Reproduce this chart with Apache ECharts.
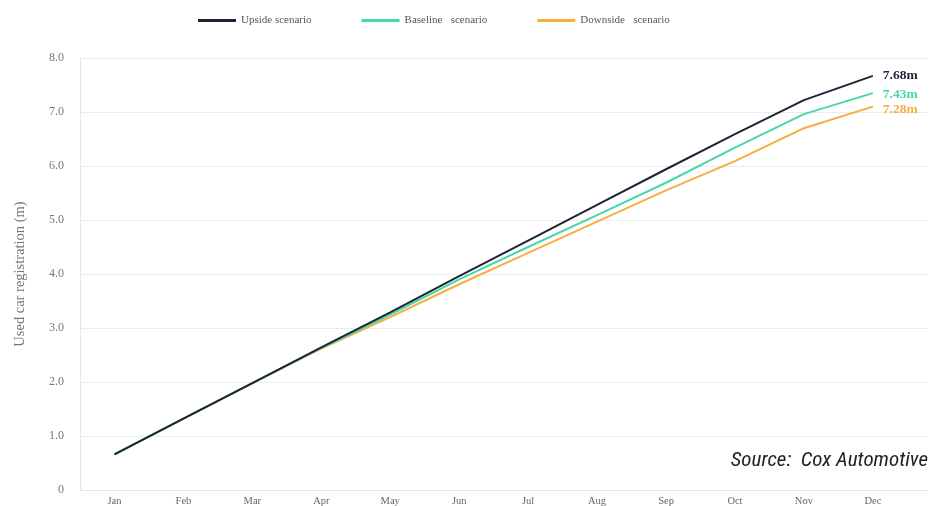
<!DOCTYPE html>
<html>
<head>
<meta charset="utf-8">
<script src="https://cdn.jsdelivr.net/npm/echarts@6/dist/echarts.min.js"></script>
<style>
html,body{margin:0;padding:0;background:#fff;}
#chart{width:940px;height:506px;}
</style>
</head>
<body>
<div id="chart"></div>
<script>
const months = ['Jan','Feb','Mar','Apr','May','Jun','Jul','Aug','Sep','Oct','Nov','Dec'];
const upside   = [0.66,1.32,1.98,2.64,3.29,3.96,4.62,5.28,5.94,6.59,7.22,7.67];
const baseline = [0.66,1.32,1.98,2.63,3.25,3.90,4.50,5.09,5.69,6.34,6.96,7.35];
const downside = [0.66,1.32,1.98,2.62,3.20,3.81,4.39,4.97,5.55,6.09,6.70,7.10];
const seriesNames = ['Upside scenario','Baseline   scenario','Downside   scenario'];
const endLabels = ['7.68m','7.43m','7.28m'];
const sourceText = 'Source:  Cox Automotive';

const colors = ['#1d2437','#48d6ab','#f7ae3e'];
const serif = '"Liberation Serif","DejaVu Serif",serif';

const chart = echarts.init(document.getElementById('chart'));

function toPairs(arr){ return arr.map((v,i)=>[i,v]); }

function makeSeries(name, data, color, idx){
  return {
    name: name,
    type: 'line',
    data: toPairs(data),
    symbol: 'none',
    smooth: false,
    lineStyle: {color: color, width: 2},
    itemStyle: {color: color},
    z: 10 - idx,
    endLabel: {
      show: true,
      formatter: () => endLabels[idx],
      color: color,
      fontFamily: serif,
      fontWeight: 'bold',
      fontSize: 13.5,
      distance: 10,
      offset: [0, idx === 2 ? 3 : (idx === 1 ? 1 : 0)]
    }
  };
}

chart.setOption({
  animation: false,
  backgroundColor: '#fff',
  color: colors,
  legend: {
    top: 10,
    left: 193,
    itemWidth: 38,
    itemHeight: 3,
    itemGap: 50,
    icon: 'rect',
    textStyle: {fontFamily: serif, fontSize: 11, color: '#555'},
    data: seriesNames
  },
  grid: {left: 80, right: 12, top: 58, bottom: 16, containLabel: false, outerBoundsMode: 'none'},
  xAxis: {
    type: 'value',
    min: -0.5,
    max: 11.8,
    axisLine: {show: true, onZero: false, lineStyle: {color: '#e6e6e6', width: 1}},
    axisTick: {show: false},
    splitLine: {show: false},
    axisLabel: {
      customValues: months.map((m,i)=>i),
      formatter: v => months[Math.round(v)] || '',
      fontFamily: serif,
      fontSize: 10.5,
      color: '#666',
      margin: 6
    }
  },
  yAxis: {
    type: 'value',
    min: 0,
    max: 8,
    interval: 1,
    name: 'Used car registration (m)',
    nameLocation: 'middle',
    nameGap: 52,
    nameTextStyle: {fontFamily: serif, fontSize: 14.5, color: '#777'},
    axisLine: {show: true, onZero: false, lineStyle: {color: '#e6e6e6', width: 1}},
    axisTick: {show: false},
    splitLine: {show: true, lineStyle: {color: '#ececec', width: 1}},
    axisLabel: {
      formatter: v => v === 0 ? '0' : v.toFixed(1),
      fontFamily: serif,
      fontSize: 12,
      color: '#777',
      margin: 16
    }
  },
  graphic: [{
    type: 'text',
    right: 12,
    top: 450,
    style: {
      text: sourceText,
      font: 'italic 21px "Roboto Condensed", Roboto, "Liberation Sans", sans-serif',
      fill: '#222'
    }
  }],
  series: [
    makeSeries(seriesNames[0], upside, colors[0], 0),
    makeSeries(seriesNames[1], baseline, colors[1], 1),
    makeSeries(seriesNames[2], downside, colors[2], 2)
  ]
});
</script>
</body>
</html>
